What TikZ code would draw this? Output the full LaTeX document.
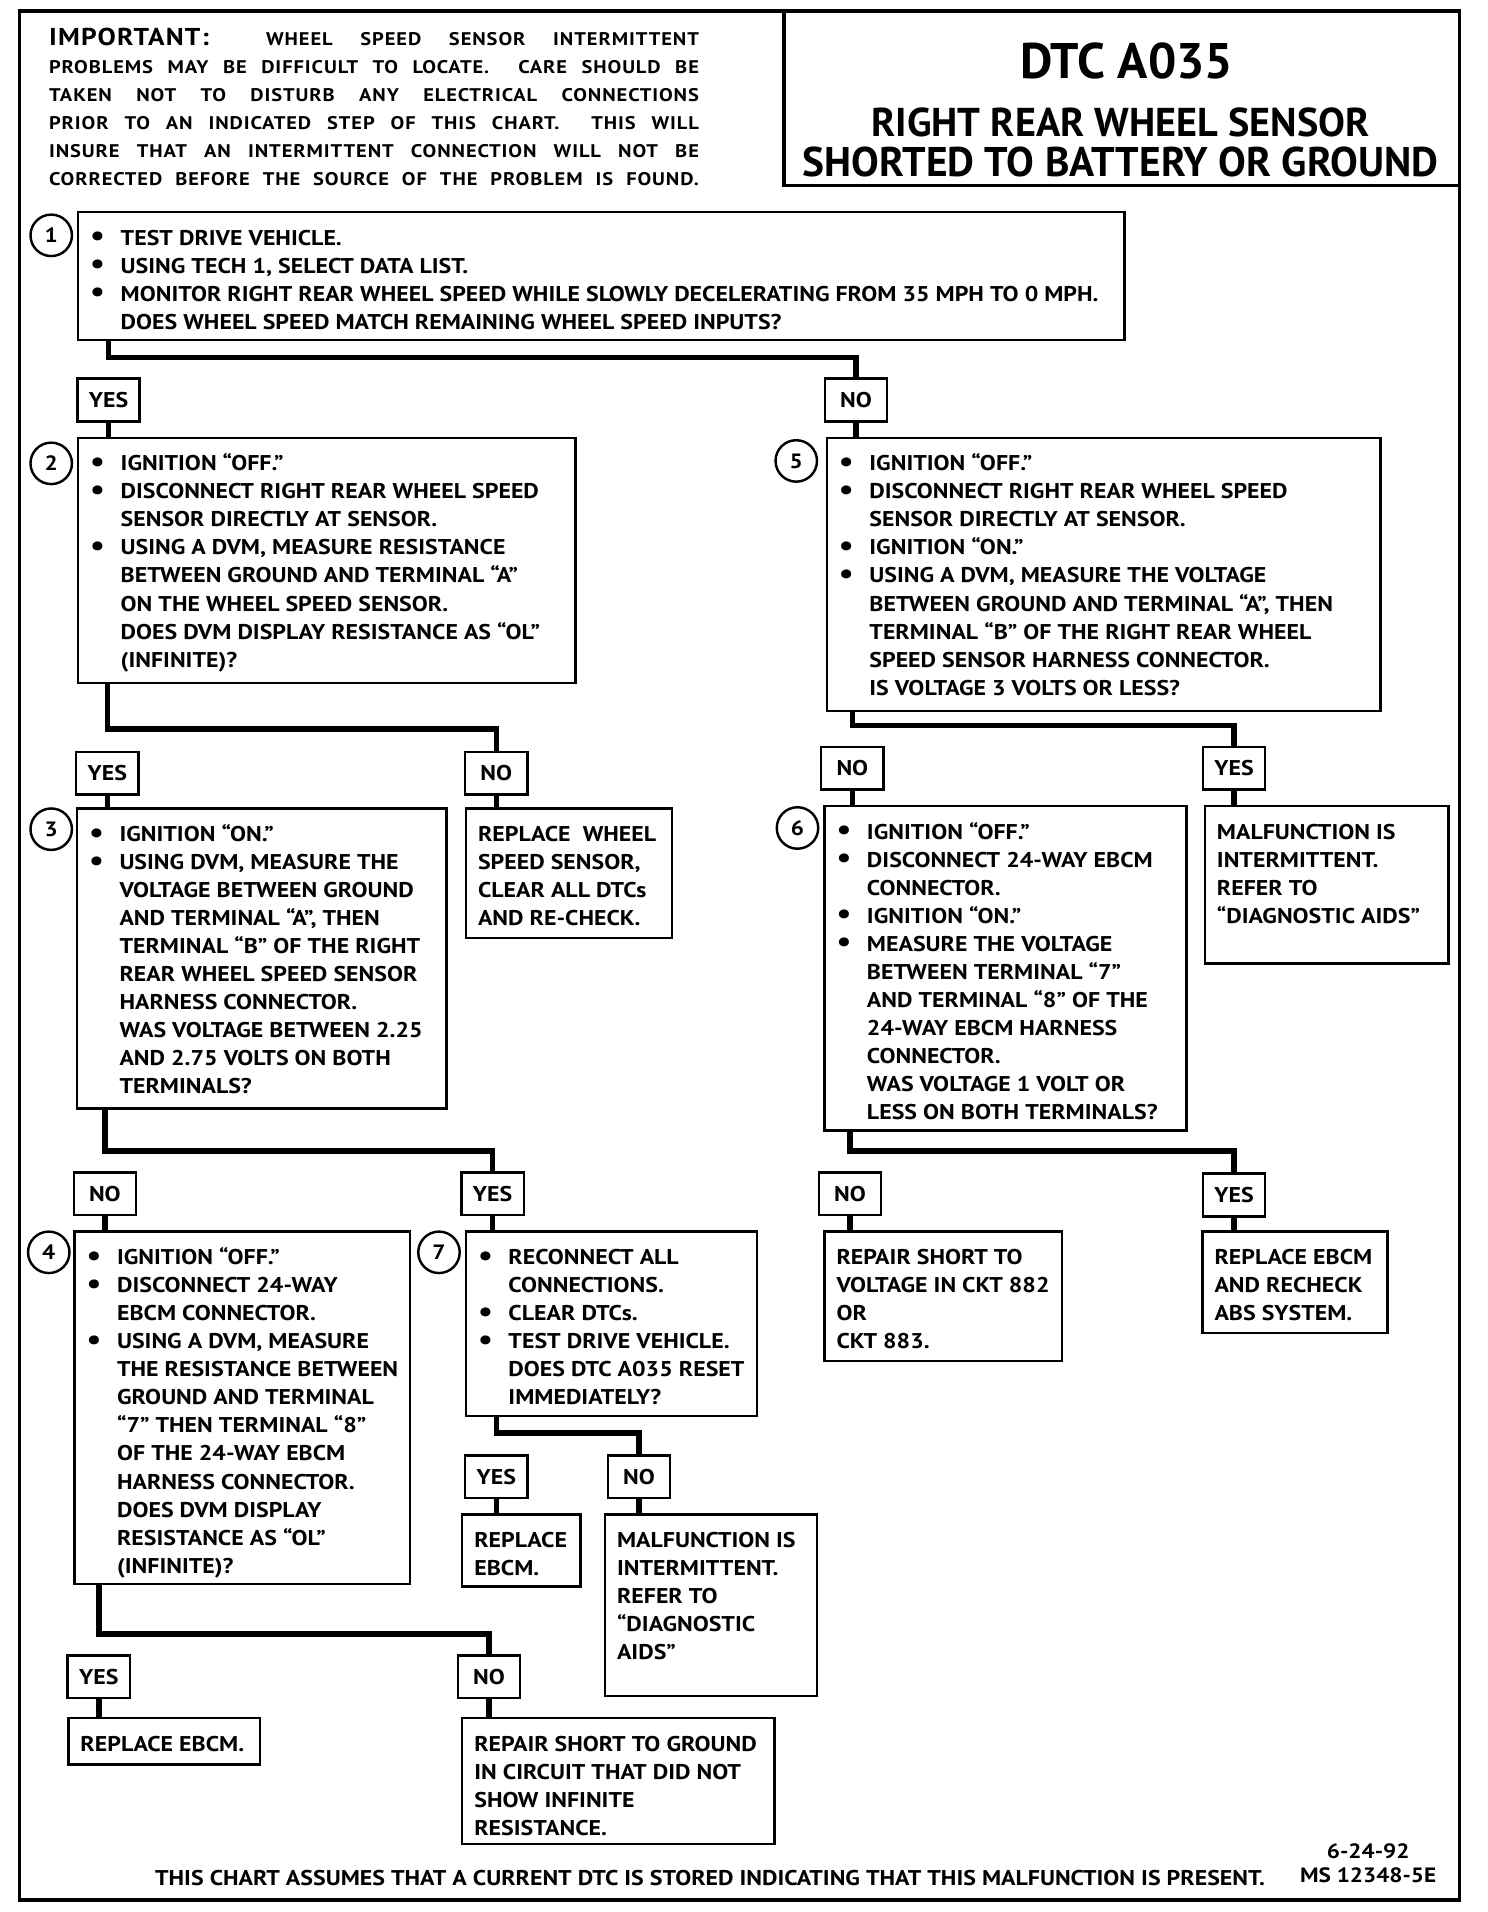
\documentclass[tikz,border=0pt]{standalone}
\usepackage{fontspec}
\setmainfont{PT Sans}[FakeStretch=1.12]
\newfontfamily\titlefont{PT Sans}
\usetikzlibrary{calc}
\newcommand\bodyfont{\bfseries\fontsize{17.5}{23}\selectfont}
\newcommand\bl{\makebox[25pt][l]{\raisebox{-0.5pt}{\fontsize{24}{23}\selectfont\textbullet}}}
\newcommand\ind{\hspace*{25pt}}
\tikzset{
  sbox/.style={draw, line width=2pt, inner xsep=10pt, inner ysep=11pt},
  lab/.style={draw, line width=2pt, minimum width=51pt, minimum height=35pt, inner sep=0pt,
    font=\bfseries\fontsize{17.5}{20}\selectfont},
  numc/.style={draw, circle, line width=2pt, minimum size=34pt, inner sep=0pt,
    font=\bfseries\fontsize{17}{20}\selectfont},
  conn/.style={line width=4.5pt},
}
\newcommand\stepbox[6]{%
  \node[sbox, anchor=north west] (#1) at (#2,#3)
  {\parbox[t][\dimexpr#5pt-22pt\relax][t]{\dimexpr#4pt-20pt\relax}{\bodyfont\raggedright
   \rightskip=0pt plus 1fil minus 500pt\relax\strut#6}};}
\begin{document}
\begin{tikzpicture}[x=1pt,y=-1pt]
\useasboundingbox (0,0) rectangle (1220,1568);
% frame and title
\draw[line width=3pt] (16,9) rectangle (1197,1558);
\draw[line width=3pt] (643,9) rectangle (1197,152);
\node[font=\titlefont\bfseries\fontsize{41}{44}\selectfont] (t1) at (924,50) {DTC A035};
\node[font=\titlefont\bfseries\fontsize{33}{36}\selectfont] (t2) at (919,100) {RIGHT REAR WHEEL SENSOR};
\node[font=\titlefont\bfseries\fontsize{34}{36}\selectfont] (t3) at (919,133) {SHORTED TO BATTERY OR GROUND};
% important note
\node[anchor=north west, inner sep=0pt] (imp) at (40,21) {\parbox{533pt}{\bfseries\fontsize{15}{23}\selectfont\addfontfeatures{LetterSpace=5}%
\makebox[533pt][s]{\strut{\fontsize{20}{23}\selectfont IMPORTANT:}\hspace{24pt} WHEEL SPEED SENSOR INTERMITTENT}\\
\makebox[533pt][s]{PROBLEMS MAY BE DIFFICULT TO LOCATE. \ CARE SHOULD BE}\\
\makebox[533pt][s]{TAKEN NOT TO DISTURB ANY ELECTRICAL CONNECTIONS}\\
\makebox[533pt][s]{PRIOR TO AN INDICATED STEP OF THIS CHART. \ THIS WILL}\\
\makebox[533pt][s]{INSURE THAT AN INTERMITTENT CONNECTION WILL NOT BE}\\
\makebox[533pt][s]{CORRECTED BEFORE THE SOURCE OF THE PROBLEM IS FOUND.}}};
% step boxes
\stepbox{b1}{63}{173}{858}{105}{\bl TEST DRIVE VEHICLE.\\
\bl USING TECH 1, SELECT DATA LIST.\\
\bl MONITOR RIGHT REAR WHEEL SPEED WHILE SLOWLY DECELERATING FROM 35 MPH TO 0 MPH.\\
\ind DOES WHEEL SPEED MATCH REMAINING WHEEL SPEED INPUTS?}
\stepbox{b2}{63}{358}{408}{201}{\bl IGNITION “OFF.”\\
\bl DISCONNECT RIGHT REAR WHEEL SPEED\\
\ind SENSOR DIRECTLY AT SENSOR.\\
\bl USING A DVM, MEASURE RESISTANCE\\
\ind BETWEEN GROUND AND TERMINAL “A”\\
\ind ON THE WHEEL SPEED SENSOR.\\
\ind DOES DVM DISPLAY RESISTANCE AS “OL”\\
\ind (INFINITE)?}
\stepbox{b3}{62}{662}{303}{246}{\bl IGNITION “ON.”\\
\bl USING DVM, MEASURE THE\\
\ind VOLTAGE BETWEEN GROUND\\
\ind AND TERMINAL “A”, THEN\\
\ind TERMINAL “B” OF THE RIGHT\\
\ind REAR WHEEL SPEED SENSOR\\
\ind HARNESS CONNECTOR.\\
\ind WAS VOLTAGE BETWEEN 2.25\\
\ind AND 2.75 VOLTS ON BOTH\\
\ind TERMINALS?}
\stepbox{rw}{381}{662}{169}{106}{REPLACE \ WHEEL\\ SPEED SENSOR,\\ CLEAR ALL DTCs\\ AND RE-CHECK.}
\stepbox{b4}{60}{1009}{275}{289}{\bl IGNITION “OFF.”\\
\bl DISCONNECT 24-WAY\\
\ind EBCM CONNECTOR.\\
\bl USING A DVM, MEASURE\\
\ind THE RESISTANCE BETWEEN\\
\ind GROUND AND TERMINAL\\
\ind “7” THEN TERMINAL “8”\\
\ind OF THE 24-WAY EBCM\\
\ind HARNESS CONNECTOR.\\
\ind DOES DVM DISPLAY\\
\ind RESISTANCE AS “OL”\\
\ind (INFINITE)?}
\stepbox{b7}{381}{1009}{239}{151}{\bl RECONNECT ALL\\
\ind CONNECTIONS.\\
\bl CLEAR DTCs.\\
\bl TEST DRIVE VEHICLE.\\
\ind DOES DTC A035 RESET\\
\ind IMMEDIATELY?}
\stepbox{re7}{378}{1241}{97}{59}{REPLACE\\ EBCM.}
\stepbox{mi7}{495}{1241}{174}{149}{MALFUNCTION IS\\ INTERMITTENT.\\ REFER TO\\ “DIAGNOSTIC\\ AIDS”}
\stepbox{re4}{55}{1408}{157}{35}{REPLACE EBCM.}
\stepbox{rg4}{378}{1408}{256}{103}{REPAIR SHORT TO GROUND\\ IN CIRCUIT THAT DID NOT\\ SHOW INFINITE\\ RESISTANCE.}
\stepbox{b5}{677}{358}{454}{224}{\bl IGNITION “OFF.”\\
\bl DISCONNECT RIGHT REAR WHEEL SPEED\\
\ind SENSOR DIRECTLY AT SENSOR.\\
\bl IGNITION “ON.”\\
\bl USING A DVM, MEASURE THE VOLTAGE\\
\ind BETWEEN GROUND AND TERMINAL “A”, THEN\\
\ind TERMINAL “B” OF THE RIGHT REAR WHEEL\\
\ind SPEED SENSOR HARNESS CONNECTOR.\\
\ind IS VOLTAGE 3 VOLTS OR LESS?}
\stepbox{b6}{675}{660}{297}{266}{\bl IGNITION “OFF.”\\
\bl DISCONNECT 24-WAY EBCM\\
\ind CONNECTOR.\\
\bl IGNITION “ON.”\\
\bl MEASURE THE VOLTAGE\\
\ind BETWEEN TERMINAL “7”\\
\ind AND TERMINAL “8” OF THE\\
\ind 24-WAY EBCM HARNESS\\
\ind CONNECTOR.\\
\ind WAS VOLTAGE 1 VOLT OR\\
\ind LESS ON BOTH TERMINALS?}
\stepbox{mi5}{987}{660}{200}{129}{MALFUNCTION IS\\ INTERMITTENT.\\ REFER TO\\ “DIAGNOSTIC AIDS”}
\stepbox{rv6}{675}{1009}{195}{106}{REPAIR SHORT TO\\ VOLTAGE IN CKT 882\\ OR\\ CKT 883.}
\stepbox{re6}{985}{1009}{152}{83}{REPLACE EBCM\\ AND RECHECK\\ ABS SYSTEM.}
% step numbers
\node[numc] (c1) at (42,193) {1};
\node[numc] (c2) at (42,380) {2};
\node[numc] (c3) at (42,680) {3};
\node[numc] (c4) at (40,1027) {4};
\node[numc] (c5) at (653,378) {5};
\node[numc] (c6) at (654,679) {6};
\node[numc] (c7) at (360,1027) {7};
% answer labels
\node[lab] (y1) at (89,328) {YES};
\node[lab] (n1) at (702,328) {NO};
\node[lab] (y2) at (88,634) {YES};
\node[lab] (n2) at (407,634) {NO};
\node[lab] (n3) at (86,979) {NO};
\node[lab] (y3) at (404,979) {YES};
\node[lab] (y4) at (81,1375) {YES};
\node[lab] (n4) at (401,1375) {NO};
\node[lab] (y7) at (407,1211) {YES};
\node[lab] (n7) at (524,1211) {NO};
\node[lab] (n5) at (699,630) {NO};
\node[lab] (y5) at (1012,630) {YES};
\node[lab] (n6) at (697,979) {NO};
\node[lab] (y6) at (1012,980) {YES};
% junction heights
\coordinate (j1) at (0,293);
\coordinate (j2) at (0,598);
\coordinate (j3) at (0,944);
\coordinate (j4) at (0,1340);
\coordinate (j7) at (0,1175);
\coordinate (j5) at (0,595);
\coordinate (j6) at (0,944);
% connectors
\draw[conn] (b1.south -| y1) -- (j1 -| y1) -| (n1.north);
\draw[conn] (y1.south) -- (b2.north -| y1);
\draw[conn] (n1.south) -- (b5.north -| n1);
\draw[conn] (b2.south -| y2) -- (j2 -| y2) -| (n2.north);
\draw[conn] (y2.south) -- (b3.north -| y2);
\draw[conn] (n2.south) -- (rw.north -| n2);
\draw[conn] (b3.south -| n3) -- (j3 -| n3) -| (y3.north);
\draw[conn] (n3.south) -- (b4.north -| n3);
\draw[conn] (y3.south) -- (b7.north -| y3);
\draw[conn] (b4.south -| y4) -- (j4 -| y4) -| (n4.north);
\draw[conn] (y4.south) -- (re4.north -| y4);
\draw[conn] (n4.south) -- (rg4.north -| n4);
\draw[conn] (b7.south -| y7) -- (j7 -| y7) -| (n7.north);
\draw[conn] (y7.south) -- (re7.north -| y7);
\draw[conn] (n7.south) -- (mi7.north -| n7);
\draw[conn] (b5.south -| n5) -- (j5 -| n5) -| (y5.north);
\draw[conn] (n5.south) -- (b6.north -| n5);
\draw[conn] (y5.south) -- (mi5.north -| y5);
\draw[conn] (b6.south -| n6) -- (j6 -| n6) -| (y6.north);
\draw[conn] (n6.south) -- (rv6.north -| n6);
\draw[conn] (y6.south) -- (re6.north -| y6);
% footer
\node[anchor=base west, inner sep=0pt, font=\bfseries\fontsize{17.5}{20}\selectfont] (foot) at (127,1546) {THIS CHART ASSUMES THAT A CURRENT DTC IS STORED INDICATING THAT THIS MALFUNCTION IS PRESENT.};
\node[anchor=base, inner sep=0pt, font=\bfseries\fontsize{17}{20}\selectfont] (date) at (1122,1524) {6-24-92};
\node[anchor=base, inner sep=0pt, font=\bfseries\fontsize{17}{20}\selectfont] (ms) at (1122,1544) {MS 12348-5E};
\end{tikzpicture}
\end{document}
